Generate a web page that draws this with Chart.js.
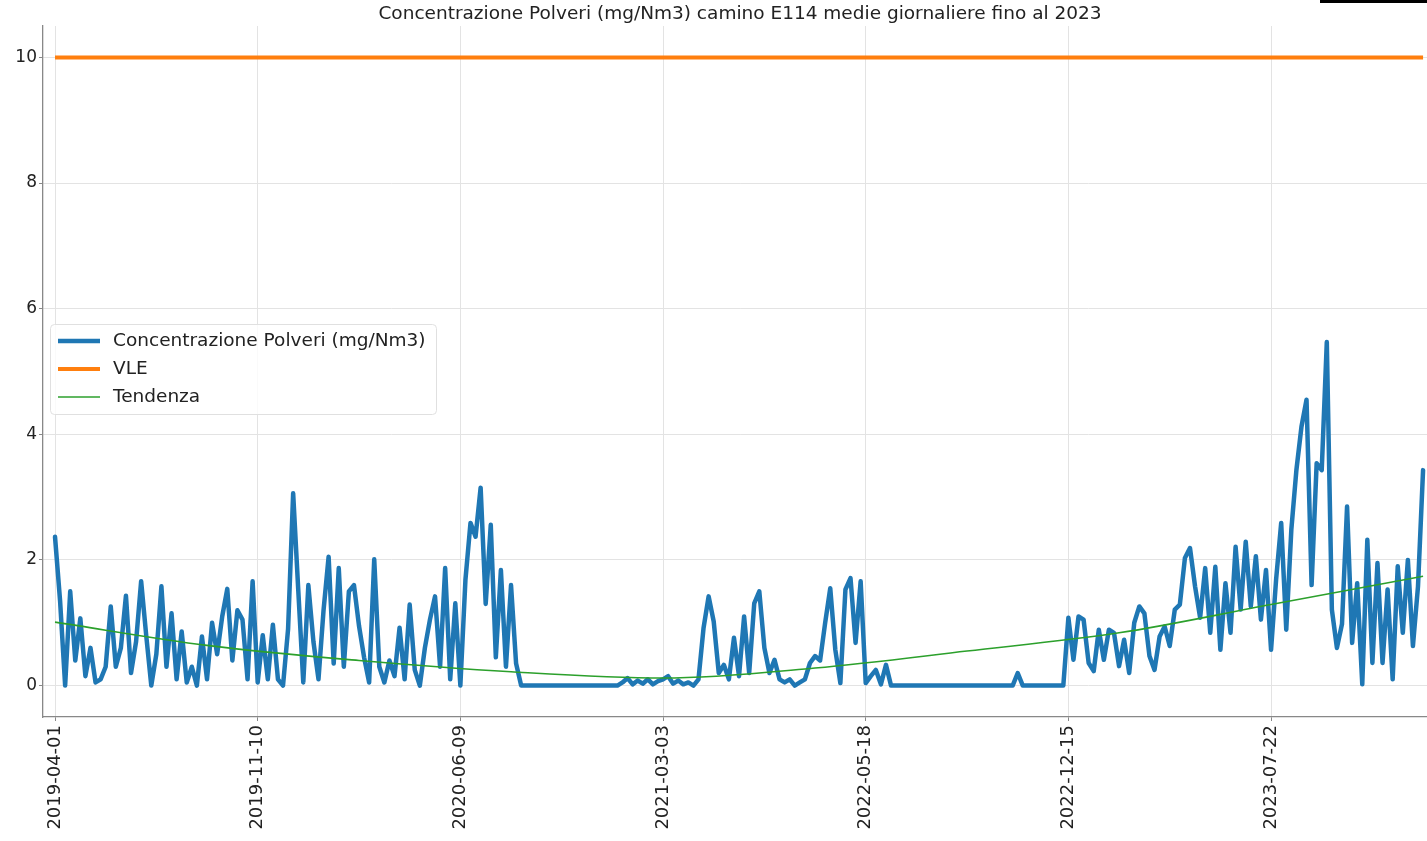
<!DOCTYPE html>
<html>
<head>
<meta charset="utf-8">
<script src="https://cdn.jsdelivr.net/npm/chart.js@4.4.1/dist/chart.umd.min.js"></script>
<style>
html, body { margin:0; padding:0; overflow:hidden; background:#fff; }
#wrap { position:relative; width:1480px; height:841px; }
#cornerMark { position:absolute; left:1320px; top:0; width:107px; height:3px; background:#000; }
</style>
</head>
<body>
<div id="wrap">
  <canvas id="chartPolveri" width="1480" height="841"></canvas>
  <div id="cornerMark"></div>
</div>
<script>
const titolo = 'Concentrazione Polveri (mg/Nm3) camino E114 medie giornaliere fino al 2023';

// etichette asse x (date) e loro posizione nella serie
const etichetteX = ['2019-04-01','2019-11-10','2020-06-09','2021-03-03','2022-05-18','2022-12-15','2023-07-22'];
const posizioniX = [0, 40, 80, 120, 160, 200, 240];
const tickY = [0, 2, 4, 6, 8, 10];

// medie giornaliere (un campione ogni ~5 giorni)
const polveri = [
  2.37, 1.35, 0.0, 1.5, 0.4, 1.07, 0.15, 0.6, 0.05, 0.1,
  0.3, 1.26, 0.3, 0.6, 1.43, 0.2, 0.7, 1.66, 0.8, 0.0,
  0.5, 1.58, 0.3, 1.15, 0.1, 0.86, 0.05, 0.3, 0.0, 0.78,
  0.1, 1.0, 0.5, 1.1, 1.54, 0.4, 1.2, 1.05, 0.1, 1.66,
  0.05, 0.8, 0.1, 0.97, 0.1, 0.0, 0.9, 3.06, 1.53, 0.05,
  1.6, 0.7, 0.1, 1.2, 2.05, 0.35, 1.87, 0.3, 1.5, 1.6,
  0.95, 0.45, 0.05, 2.01, 0.3, 0.05, 0.4, 0.15, 0.92, 0.1,
  1.29, 0.25, 0.0, 0.6, 1.05, 1.42, 0.3, 1.87, 0.1, 1.31,
  0.0, 1.68, 2.59, 2.37, 3.15, 1.3, 2.56, 0.45, 1.84, 0.3,
  1.6, 0.35, 0, 0, 0, 0, 0, 0, 0, 0,
  0, 0, 0, 0, 0, 0, 0, 0, 0, 0,
  0, 0, 0.05, 0.12, 0.02, 0.08, 0.03, 0.1, 0.02, 0.07,
  0.1, 0.15, 0.03, 0.08, 0.02, 0.05, 0.0, 0.1, 0.92, 1.42,
  1.02, 0.2, 0.33, 0.1, 0.76, 0.15, 1.1, 0.2, 1.31, 1.5,
  0.6, 0.2, 0.41, 0.1, 0.05, 0.1, 0.0, 0.05, 0.1, 0.36,
  0.47, 0.4, 1.0, 1.55, 0.57, 0.04, 1.53, 1.71, 0.68, 1.66,
  0.04, 0.15, 0.25, 0.02, 0.33, 0, 0, 0, 0, 0,
  0, 0, 0, 0, 0, 0, 0, 0, 0, 0,
  0, 0, 0, 0, 0, 0, 0, 0, 0, 0,
  0.2, 0, 0, 0, 0, 0, 0, 0, 0, 0,
  1.08, 0.41, 1.1, 1.05, 0.36, 0.23, 0.89, 0.41, 0.89, 0.84,
  0.31, 0.73, 0.2, 1.0, 1.26, 1.15, 0.47, 0.25, 0.78, 0.94,
  0.63, 1.21, 1.29, 2.03, 2.19, 1.58, 1.08, 1.87, 0.84, 1.89,
  0.57, 1.63, 0.84, 2.21, 1.21, 2.29, 1.26, 2.06, 1.05, 1.84,
  0.57, 1.69, 2.59, 0.89, 2.48, 3.43, 4.12, 4.55, 1.6, 3.54,
  3.43, 5.47, 1.21, 0.6, 0.98, 2.85, 0.68, 1.63, 0.02, 2.32,
  0.36, 1.95, 0.36, 1.53, 0.1, 1.9, 0.84, 2.0, 0.63, 1.58,
  3.43
];

// valore limite
const vleX = [0, 270];
const vleY = [10, 10];

// linea di tendenza
const tendenzaX = [0, 30, 60, 90, 120, 150, 180, 210, 240, 270];
const tendenzaY = [1.01, 0.64, 0.40, 0.22, 0.12, 0.28, 0.55, 0.84, 1.29, 1.74];

const fontBase = 'DejaVu Sans';

// legenda dentro il grafico, come in matplotlib
const legendaPlugin = {
  id: 'legendaInterna',
  afterDraw(chart) {
    const ctx = chart.ctx;
    ctx.save();
    ctx.beginPath();
    ctx.roundRect(50.5, 324.5, 386, 90, 4);
    ctx.fillStyle = 'rgba(255,255,255,0.8)';
    ctx.fill();
    ctx.strokeStyle = '#e0e0e0';
    ctx.lineWidth = 1;
    ctx.stroke();

    const voci = chart.data.datasets;
    voci.forEach((ds, i) => {
      const y = 341 + i * 28;
      ctx.beginPath();
      ctx.moveTo(58, y);
      ctx.lineTo(100, y);
      ctx.strokeStyle = ds.borderColor;
      ctx.lineWidth = ds.borderWidth;
      ctx.stroke();
      ctx.fillStyle = '#222';
      ctx.font = '18.5px ' + fontBase;
      ctx.textBaseline = 'middle';
      ctx.textAlign = 'left';
      ctx.fillText(ds.label, 113, y);
    });
    ctx.restore();
  }
};

const titoloPlugin = {
  id: 'titolo',
  afterDraw(chart) {
    const ctx = chart.ctx;
    ctx.save();
    ctx.fillStyle = '#222';
    ctx.font = '18.5px ' + fontBase;
    ctx.textAlign = 'center';
    ctx.textBaseline = 'middle';
    ctx.fillText(titolo, 740, 14);
    ctx.restore();
  }
};

const chartPolveri = document.getElementById('chartPolveri');

new Chart(chartPolveri, {
  type: 'line',
  data: {
    datasets: [
      {
        label: 'Concentrazione Polveri (mg/Nm3)',
        data: polveri.map((v, i) => ({ x: i, y: v })),
        borderColor: '#1f77b4',
        borderWidth: 4.5,
        borderJoinStyle: 'round',
        borderCapStyle: 'round',
        pointRadius: 0,
        tension: 0,
        order: 3
      },
      {
        label: 'VLE',
        data: vleX.map((x, i) => ({ x: x, y: vleY[i] })),
        borderColor: '#ff7f0e',
        borderWidth: 4,
        pointRadius: 0,
        order: 2
      },
      {
        label: 'Tendenza',
        data: tendenzaX.map((x, i) => ({ x: x, y: tendenzaY[i] })),
        borderColor: '#2ca02c',
        borderWidth: 1.6,
        pointRadius: 0,
        cubicInterpolationMode: 'monotone',
        order: 1
      }
    ]
  },
  options: {
    responsive: false,
    animation: false,
    layout: { padding: { top: 26, right: 43, left: 0, bottom: 0 } },
    plugins: {
      legend: { display: false },
      title: { display: false },
      tooltip: { enabled: false }
    },
    scales: {
      x: {
        type: 'linear',
        min: -2.37,
        max: 272.75,
        afterBuildTicks: (s) => { s.ticks = posizioniX.map(v => ({ value: v })); },
        afterFit: (s) => { s.height = 124; },
        ticks: {
          autoSkip: false,
          minRotation: 90,
          maxRotation: 90,
          padding: 4,
          color: '#222',
          font: { family: fontBase, size: 18 },
          callback: (v) => etichetteX[posizioniX.indexOf(v)]
        },
        grid: { color: '#e3e3e3', tickColor: '#888', tickLength: 4 },
        border: { color: '#888', width: 1.3 }
      },
      y: {
        min: -0.5,
        max: 10.5,
        afterBuildTicks: (s) => { s.ticks = tickY.map(v => ({ value: v })); },
        afterFit: (s) => { s.width = 43; },
        ticks: {
          padding: 2,
          color: '#222',
          font: { family: fontBase, size: 17 }
        },
        grid: { color: '#e3e3e3', tickColor: '#888', tickLength: 4 },
        border: { color: '#888', width: 1.3 }
      }
    }
  },
  plugins: [legendaPlugin, titoloPlugin]
});
</script>
</body>
</html>
